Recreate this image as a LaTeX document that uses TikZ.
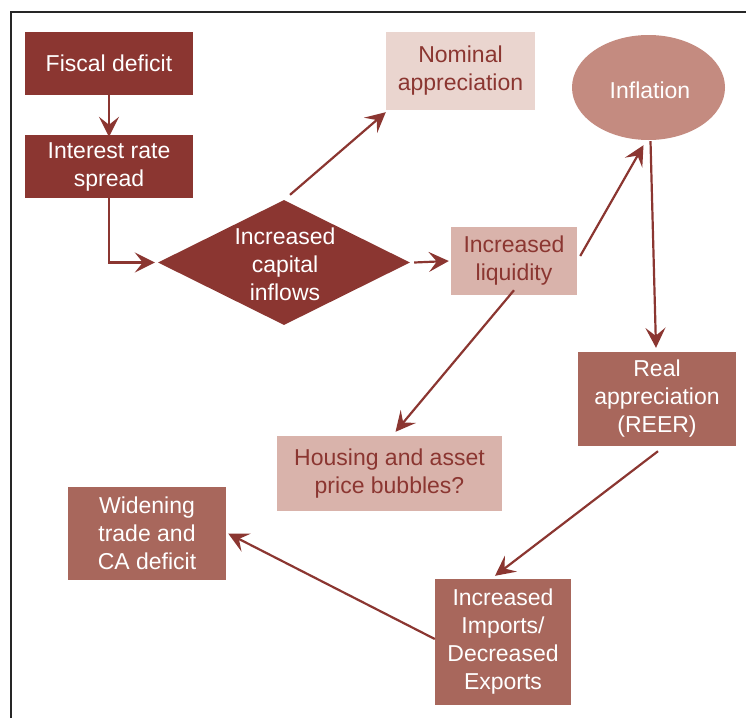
\documentclass[tikz,border=0pt]{standalone}
\usepackage{fontspec}
\setmainfont{Liberation Sans}
\usetikzlibrary{shapes.geometric,arrows.meta}
\definecolor{cdark}{HTML}{8B3631}
\definecolor{cmid}{HTML}{A8675C}
\definecolor{cinfl}{HTML}{C48B80}
\definecolor{clight}{HTML}{D9B3AB}
\definecolor{cpale}{HTML}{EAD5CF}
\definecolor{cframe}{HTML}{262626}
\tikzset{
  base/.style={inner sep=0pt, align=center, font=\fontsize{23}{28}\selectfont},
  darkbox/.style={base, rectangle, fill=cdark, text=white},
  midbox/.style={base, rectangle, fill=cmid, text=white},
  lightbox/.style={base, rectangle, fill=clight, text=cdark},
  paleboxs/.style={base, rectangle, fill=cpale, text=cdark},
  conn/.style={draw=cdark, line width=2.2pt, -{Stealth[length=20pt,width=20pt,inset=8pt]}}
}
\begin{document}
\begin{tikzpicture}[x=1pt,y=-1pt]
\useasboundingbox (0,0) rectangle (746,718);
\draw[cframe, line width=2.5pt] (11,718) -- (11,12) -- (746,12);

\node[darkbox, minimum width=168pt, minimum height=63pt] (fis) at (109,63.5) {Fiscal deficit};
\node[darkbox, minimum width=168pt, minimum height=63pt] (ir) at (109,166.5) {Interest rate\\spread};
\node[diamond, aspect=2, fill=cdark, inner sep=0pt, minimum width=252pt, minimum height=125pt] (cap) at (284,262.5) {};
\node[base, text=white] (captxt) at (285,264) {Increased\\capital\\inflows};
\node[paleboxs, minimum width=149pt, minimum height=78pt] (nom) at (460.5,71) {Nominal\\appreciation};
\node[ellipse, fill=cinfl, inner sep=0pt, minimum width=153pt, minimum height=105pt] (infl) at (648.5,87.5) {};
\node[base, text=white] (infltxt) at (650,90) {Inflation};
\node[lightbox, minimum width=126pt, minimum height=68pt] (liq) at (514,261) {Increased\\liquidity};
\node[midbox, minimum width=158pt, minimum height=94pt] (real) at (657,399) {Real\\appreciation\\(REER)};
\node[lightbox, minimum width=225pt, minimum height=75pt] (hous) at (389.5,473.5) {Housing and asset\\price bubbles?};
\node[midbox, minimum width=136pt, minimum height=126pt] (imp) at (503,642) {Increased\\Imports/\\Decreased\\Exports};
\node[midbox, minimum width=158pt, minimum height=93pt] (wid) at (147,533.5) {Widening\\trade and\\CA deficit};

\draw[conn] (fis.south) -- ([yshift=-2]ir.north);
\draw[conn] (ir.south) |- ([xshift=-3]cap.west);
\draw[conn] ([shift={(6,-5)}]cap.north) -- ([shift={(0,2)}]nom.south west);
\draw[conn] ([xshift=4]cap.east) -- ([xshift=-2]liq.east -| liq.west);
\draw[conn] ([shift={(3,-5)}]liq.east) -- ([shift={(-5,5)}]infl.south);
\draw[conn] ([shift={(2,1)}]infl.south) -- ([shift={(-1,-4)}]real.north);
\draw[conn] ([yshift=5]liq.south) -- ([shift={(6,-4)}]hous.north);
\draw[conn] ([shift={(1,5)}]real.south) -- ([shift={(-8,-3)}]imp.north);
\draw[conn] ([yshift=3]imp.west) -- ([xshift=2]wid.east);
\end{tikzpicture}
\end{document}
